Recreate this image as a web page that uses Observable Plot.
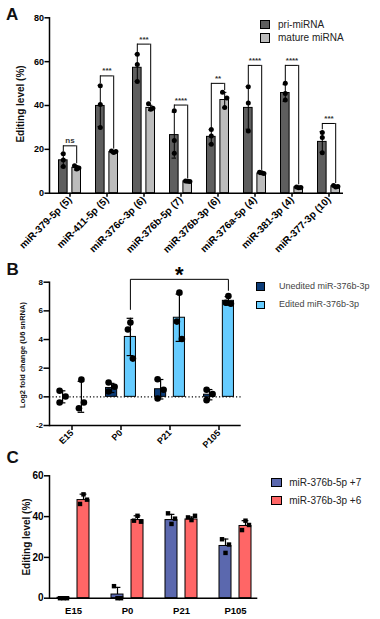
<!DOCTYPE html>
<html>
<head>
<meta charset="utf-8">
<script src="https://cdn.jsdelivr.net/npm/d3@7"></script>
<script src="https://cdn.jsdelivr.net/npm/@observablehq/plot@0.6"></script>
<style>
  body { margin: 0; background: white; }
  #wrap { position: relative; width: 380px; height: 619px; overflow: hidden; font-family: 'Liberation Sans', Arial, Helvetica, sans-serif; }
  .panel { position: absolute; left: 0; }
  .letter { position: absolute; font-size: 17px; line-height: 17px; font-weight: bold; color: #111; }
  .ytitle { position: absolute; transform: translate(-50%, -50%) rotate(-90deg); white-space: nowrap; font-weight: bold; color: #111; }
  .legrow { position: absolute; display: flex; align-items: center; white-space: nowrap; }
  .legsq { box-sizing: border-box; border: 1px solid #000; }
</style>
</head>
<body>
<div id="wrap">
  <div class="panel" id="pA" style="top:0px"></div>
  <div class="panel" id="pB" style="top:255px"></div>
  <div class="panel" id="pC" style="top:450px"></div>
</div>
<script>
// ---------- Panel A data ----------
const catsA = ["miR-379-5p (5)", "miR-411-5p (5)", "miR-376c-3p (6)", "miR-376b-5p (7)", "miR-376b-3p (6)", "miR-376a-5p (4)", "miR-381-3p (4)", "miR-377-3p (10)"];
const priMean = [15.0, 39.8, 57.2, 26.5, 25.7, 38.9, 45.7, 23.4];
const priSD   = [3.0, 9.4, 6.2, 10.5, 3.3, 9.7, 3.8, 4.7];
const matMean = [11.6, 18.8, 38.9, 5.4, 42.5, 9.0, 2.7, 3.2];
const matSD   = [1.0, 0.5, 1.2, 0.3, 3.5, 0.5, 0.3, 0.4];
const priPts = [[18, 15.1, 12.2], [49, 40.5, 30], [63.4, 58.7, 51], [37.6, 24, 18.2], [29, 26.1, 22.3], [48.6, 41.1, 28.4], [50.1, 45.5, 42.5], [27.7, 25.4, 18.5]];
const matPts = [[12.5, 11.5, 11], [19.3, 19, 18.6], [40.8, 38.7, 38.3], [5.6, 5.3, 5.4], [46, 43.4, 39.1], [9.6, 9.0, 9.3], [2.8, 2.6, 2.5], [3.5, 3.0, 2.8]];
const sigYA = [21.6, 53.5, 68, 40.2, 50.1, 58.3, 58.3, 31.8];
const sigLabelA = ["ns", "***", "***", "****", "**", "****", "****", "***"];
const seriesA = ["pri-miRNA", "mature miRNA"];
const ticksA = [0, 20, 40, 60, 80];

// ---------- Panel B data ----------
const timesB = ["E15", "P0", "P21", "P105"];
const unedMean = [0, 0.62, 0.53, 0.15];
const unedSD   = [0.42, 0.32, 0.68, 0.36];
const edMean   = [0, 4.18, 5.52, 6.7];
const edSD     = [1.08, 1.3, 1.65, 0.3];
const unedPts = [[0.42, 0.02, -0.4], [1.0, 0.7, 0.37], [1.23, 0.49, -0.12], [0.49, 0.19, -0.23]];
const edPts   = [[1.2, -0.8, -0.4], [5.18, 4.7, 2.67], [7.27, 5.25, 4.04], [7.04, 6.57, 6.5]];
const sigB = {from: "P0", mid: "P21", to: "P105", y: 8.2, legFrom: 6.1, legTo: 7.43, label: "*"};
const seriesB = ["Unedited miR-376b-3p", "Edited miR-376b-3p"];
const ticksB = [-2, 0, 2, 4, 6, 8];

// ---------- Panel C data ----------
const timesC = ["E15", "P0", "P21", "P105"];
const c5Mean = [0.2, 1.8, 38.3, 25.6];
const c5SD   = [0, 3.5, 2.8, 3.4];
const c3Mean = [48.1, 38.3, 38.6, 35.4];
const c3SD   = [2.9, 2.1, 1.2, 2.6];
const c5Pts = [[0, 0, 0], [5.9, 0, 0], [41.6, 39, 36.4], [28.9, 26.3, 22.2]];
const c3Pts = [[50.9, 48.3, 46.2], [40.4, 37.5, 38], [38.3, 40.4, 39.6], [38, 35.9, 33.4]];
const seriesC = ["miR-376b-5p +7", "miR-376b-3p +6"];
const ticksC = [0, 20, 40, 60];

// ---------- helpers ----------
const FONT = "'Liberation Sans', Arial, Helvetica, sans-serif";

function seriesMarks(o) {
  const rows = o.cats.map((c, i) => ({c, m: o.mean[i], s: o.sd[i]}));
  const prows = o.cats.flatMap((c, i) => o.pts[i].map((v, k) => ({c, v, k})));
  const lo = d => o.both ? d.m - d.s : d.m;
  const marks = [
    Plot.barY(rows, {x: "c", y1: 0, y2: "m", fill: o.fill, stroke: "black", strokeWidth: 1, insetLeft: o.insetL, insetRight: o.insetR}),
    Plot.ruleX(rows, {x: "c", y1: lo, y2: d => d.m + d.s, dx: o.dx, stroke: "black", strokeWidth: o.ew}),
    Plot.tickY(rows, {x: "c", y: d => d.m + d.s, dx: o.dx, insetLeft: o.capInset, insetRight: o.capInset, stroke: "black", strokeWidth: o.ew})
  ];
  if (o.both) marks.push(Plot.tickY(rows, {x: "c", y: d => d.m - d.s, dx: o.dx, insetLeft: o.capInset, insetRight: o.capInset, stroke: "black", strokeWidth: o.ew}));
  o.jit.forEach((j, k) => marks.push(Plot.dot(prows.filter(p => p.k === k), {x: "c", y: "v", dx: o.dx + j, r: o.r, symbol: o.symbol, fill: "black", stroke: "none"})));
  return marks;
}

function legend(items, o) {
  const wrap = document.getElementById("wrap");
  items.forEach((it, i) => {
    const row = document.createElement("div");
    row.className = "legrow";
    row.style.left = o.left + "px";
    row.style.top = (o.top + i * o.gap) + "px";
    row.style.height = o.h + "px";
    const sq = document.createElement("div");
    sq.className = "legsq";
    sq.style.width = o.w + "px";
    sq.style.height = o.h + "px";
    sq.style.background = it.color;
    const tx = document.createElement("div");
    tx.textContent = it.label;
    tx.style.marginLeft = o.textGap + "px";
    tx.style.fontSize = o.fontSize + "px";
    tx.style.lineHeight = o.fontSize + "px";
    tx.style.color = o.color;
    row.appendChild(sq); row.appendChild(tx);
    wrap.appendChild(row);
  });
}

function addText(cls, text, css) {
  const d = document.createElement("div");
  d.className = cls;
  d.textContent = text;
  Object.assign(d.style, css);
  document.getElementById("wrap").appendChild(d);
}

const baseStyle = {fontFamily: FONT, fontWeight: "bold", color: "black", background: "transparent", overflow: "visible"};

// ---------- Panel A ----------
const colA = ["#5e5e5e", "#bcbcbc"];
const sigRowsA = catsA.map((c, i) => ({
  c, y: sigYA[i], label: sigLabelA[i],
  lowP: Math.max(priMean[i] + priSD[i], ...priPts[i]) + 0.8,
  lowM: Math.max(matMean[i] + matSD[i], ...matPts[i]) + 0.8
}));
const chartA = Plot.plot({
  width: 380, height: 258,
  marginLeft: 49, marginRight: 37, marginTop: 17.3, marginBottom: 65.3,
  style: {...baseStyle, fontSize: "9px"},
  x: {domain: catsA, range: [48.9, 349.7], padding: 0, label: null},
  y: {domain: [0, 80], label: null},
  marks: [
    ...seriesMarks({cats: catsA, mean: priMean, sd: priSD, pts: priPts, fill: colA[0], insetL: 7.5, insetR: 20.9, dx: -6.7, capInset: 16.3, both: true, ew: 1, r: 2.5, symbol: "circle", jit: [0, 0, 0]}),
    ...seriesMarks({cats: catsA, mean: matMean, sd: matSD, pts: matPts, fill: colA[1], insetL: 20.9, insetR: 7.5, dx: 6.7, capInset: 16.3, both: true, ew: 1, r: 2.5, symbol: "circle", jit: [-2.2, 2.2, 0]}),
    Plot.ruleX(sigRowsA, {x: "c", y1: "lowP", y2: "y", dx: -6.7, stroke: "black", strokeWidth: 1}),
    Plot.ruleX(sigRowsA, {x: "c", y1: "lowM", y2: "y", dx: 6.7, stroke: "black", strokeWidth: 1}),
    Plot.tickY(sigRowsA, {x: "c", y: "y", insetLeft: 12.1, insetRight: 12.1, stroke: "black", strokeWidth: 1}),
    Plot.text(sigRowsA, {x: "c", y: "y", text: "label", lineAnchor: "bottom", dy: -2.5, fontSize: 8, fontWeight: "bold", fill: "#333"}),
    Plot.ruleY([0], {stroke: "black", strokeWidth: 1.5}),
    Plot.frame({anchor: "left", stroke: "black", strokeWidth: 1.5}),
    Plot.axisY({ticks: ticksA, tickSize: 4.5, tickPadding: 1, strokeWidth: 1.5, fontSize: 9, fontWeight: "bold", label: null}),
    Plot.axisX({tickSize: 4, tickPadding: 1, tickRotate: -45, strokeWidth: 1.5, fontSize: 10, fontWeight: "bold", label: null})
  ]
});
document.getElementById("pA").appendChild(chartA);

// ---------- Panel B ----------
const colB = ["#0c3c78", "#66ccff"];
const sigPtsB = [
  {t: sigB.from, y: sigB.legFrom}, {t: sigB.from, y: sigB.y},
  {t: sigB.to, y: sigB.y}, {t: sigB.to, y: sigB.legTo}
];
const chartB = Plot.plot({
  width: 380, height: 195,
  marginLeft: 49, marginRight: 139.3, marginTop: 26.7, marginBottom: 25,
  style: {...baseStyle, fontSize: "8px"},
  x: {domain: timesB, range: [46.3, 244], padding: 0, label: null},
  y: {domain: [-2, 8], label: null},
  marks: [
    Plot.ruleY([0], {stroke: "black", strokeWidth: 1.2, strokeDasharray: "1.2,2.2"}),
    ...seriesMarks({cats: timesB, mean: unedMean, sd: unedSD, pts: unedPts, fill: colB[0], insetL: 9.55, insetR: 28.35, dx: -9.4, capInset: 21.2, both: true, ew: 1.2, r: 3.3, symbol: "circle", jit: [-3, 3, -3]}),
    ...seriesMarks({cats: timesB, mean: edMean, sd: edSD, pts: edPts, fill: colB[1], insetL: 28.35, insetR: 9.55, dx: 9.4, capInset: 21.2, both: true, ew: 1.2, r: 3.3, symbol: "circle", jit: [0, -2.5, 2.5]}),
    Plot.line(sigPtsB, {x: "t", y: "y", dx: 9.4, stroke: "black", strokeWidth: 1}),
    Plot.text([sigB], {x: "mid", y: "y", text: "label", dx: 9.4, dy: 3, lineAnchor: "bottom", fontSize: 22, fontWeight: "bold", fill: "black"}),
    Plot.ruleY([-2], {stroke: "black", strokeWidth: 1.5}),
    Plot.frame({anchor: "left", stroke: "black", strokeWidth: 1.5}),
    Plot.axisY({ticks: ticksB, tickFormat: d => String(d), tickSize: 5.5, tickPadding: 1, strokeWidth: 1.5, fontSize: 8, fontWeight: "bold", label: null}),
    Plot.axisX({tickSize: 5, tickPadding: 1, tickRotate: -45, strokeWidth: 1.5, fontSize: 9, fontWeight: "bold", label: null})
  ]
});
document.getElementById("pB").appendChild(chartB);

// ---------- Panel C ----------
const colC = ["#5b68ae", "#ff6666"];
const chartC = Plot.plot({
  width: 380, height: 169,
  marginLeft: 49, marginRight: 122.7, marginTop: 25.3, marginBottom: 21.3,
  style: {...baseStyle, fontSize: "10px"},
  x: {domain: timesC, range: [45.7, 261.7], padding: 0, label: null},
  y: {domain: [0, 60], label: null},
  marks: [
    ...seriesMarks({cats: timesC, mean: c5Mean, sd: c5SD, pts: c5Pts, fill: colC[0], insetL: 11, insetR: 31, dx: -10, capInset: 23.6, both: false, ew: 1.2, r: 2.5, symbol: "square", jit: [-3.5, 3.5, 0]}),
    ...seriesMarks({cats: timesC, mean: c3Mean, sd: c3SD, pts: c3Pts, fill: colC[1], insetL: 31, insetR: 11, dx: 10, capInset: 23.6, both: false, ew: 1.2, r: 2.5, symbol: "square", jit: [0, 3.5, -3.5]}),
    Plot.ruleY([0], {stroke: "black", strokeWidth: 1.5}),
    Plot.frame({anchor: "left", stroke: "black", strokeWidth: 1.5}),
    Plot.axisY({ticks: ticksC, tickSize: 5, tickPadding: 1, strokeWidth: 1.5, fontSize: 10, fontWeight: "bold", label: null}),
    Plot.axisX({tickSize: 0, tickPadding: 9, fontSize: 9.5, fontWeight: "bold", label: null})
  ]
});
document.getElementById("pC").appendChild(chartC);

// ---------- legends, letters, axis titles ----------
legend(seriesA.map((s, i) => ({label: s, color: colA[i]})), {left: 260, top: 20, gap: 13.4, w: 10, h: 9.3, textGap: 8, fontSize: 10, color: "#222"});
legend(seriesB.map((s, i) => ({label: s, color: colB[i]})), {left: 256, top: 282.3, gap: 18.4, w: 9, h: 8.5, textGap: 14, fontSize: 9, color: "#444"});
legend(seriesC.map((s, i) => ({label: s, color: colC[i]})), {left: 270.7, top: 478, gap: 18, w: 11, h: 9, textGap: 7.6, fontSize: 10, color: "#222"});

addText("letter", "A", {left: "6px", top: "6.3px"});
addText("letter", "B", {left: "6.5px", top: "260.6px"});
addText("letter", "C", {left: "6.5px", top: "448.6px"});

addText("ytitle", "Editing level (%)", {left: "19.5px", top: "104px", fontSize: "10px"});
addText("ytitle", "Log2 fold change (U6 snRNA)", {left: "21.5px", top: "355px", fontSize: "7.5px"});
addText("ytitle", "Editing level (%)", {left: "26px", top: "536.5px", fontSize: "10px"});
</script>
</body>
</html>
